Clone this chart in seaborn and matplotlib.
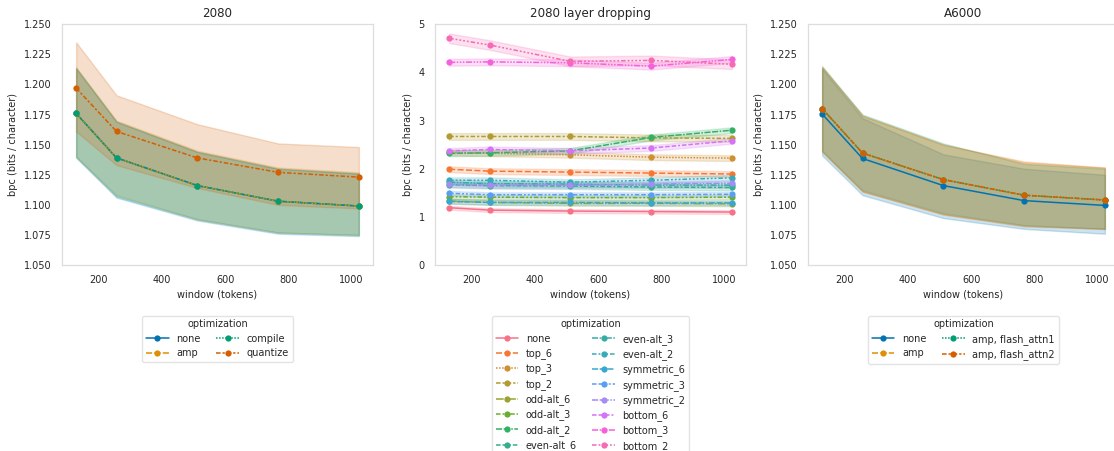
import numpy as np
import pandas as pd
import matplotlib
matplotlib.use("Agg")
import matplotlib.pyplot as plt
from matplotlib.ticker import MultipleLocator
import seaborn as sns

# ---------------------------------------------------------------- data
windows = [128, 256, 512, 768, 1024]

# 2080: mean bpc and lower / upper edge of the uncertainty band
opt_2080 = ["none", "amp", "compile", "quantize"]
mean_2080 = [
    [1.176, 1.139, 1.116, 1.103, 1.099],
    [1.176, 1.139, 1.116, 1.103, 1.099],
    [1.176, 1.139, 1.116, 1.103, 1.099],
    [1.197, 1.161, 1.139, 1.127, 1.123],
]
low_2080 = [
    [1.139, 1.106, 1.087, 1.076, 1.074],
    [1.140, 1.108, 1.088, 1.077, 1.075],
    [1.140, 1.107, 1.088, 1.077, 1.075],
    [1.161, 1.133, 1.114, 1.100, 1.097],
]
high_2080 = [
    [1.213, 1.169, 1.144, 1.130, 1.126],
    [1.214, 1.170, 1.145, 1.131, 1.127],
    [1.214, 1.169, 1.144, 1.130, 1.126],
    [1.235, 1.191, 1.167, 1.151, 1.148],
]

# A6000
opt_a6000 = ["none", "amp", "amp, flash_attn1", "amp, flash_attn2"]
mean_a6000 = [
    [1.1755, 1.1385, 1.116, 1.1035, 1.0995],
    [1.180, 1.143, 1.121, 1.108, 1.104],
    [1.180, 1.143, 1.121, 1.108, 1.104],
    [1.180, 1.143, 1.121, 1.108, 1.104],
]
low_a6000 = [
    [1.141, 1.108, 1.089, 1.080, 1.076],
    [1.144, 1.111, 1.092, 1.083, 1.080],
    [1.145, 1.112, 1.093, 1.083, 1.080],
    [1.144, 1.111, 1.092, 1.082, 1.080],
]
high_a6000 = [
    [1.213, 1.172, 1.142, 1.130, 1.125],
    [1.215, 1.174, 1.150, 1.135, 1.131],
    [1.215, 1.175, 1.151, 1.134, 1.130],
    [1.214, 1.174, 1.150, 1.136, 1.131],
]

# 2080 layer dropping: mean bpc and half-width of the band per variant
opt_drop = ["none", "top_6", "top_3", "top_2", "odd-alt_6", "odd-alt_3",
            "odd-alt_2", "even-alt_6", "even-alt_3", "even-alt_2",
            "symmetric_6", "symmetric_3", "symmetric_2",
            "bottom_6", "bottom_3", "bottom_2"]
mean_drop = [
    [1.19, 1.14, 1.12, 1.11, 1.10],
    [1.99, 1.95, 1.93, 1.91, 1.89],
    [2.34, 2.32, 2.29, 2.24, 2.22],
    [2.67, 2.67, 2.67, 2.64, 2.63],
    [1.33, 1.30, 1.28, 1.28, 1.27],
    [1.42, 1.41, 1.40, 1.40, 1.41],
    [2.32, 2.33, 2.37, 2.65, 2.80],
    [1.67, 1.65, 1.64, 1.62, 1.61],
    [1.72, 1.69, 1.68, 1.66, 1.66],
    [1.76, 1.76, 1.72, 1.76, 1.81],
    [1.32, 1.30, 1.30, 1.29, 1.29],
    [1.49, 1.46, 1.46, 1.46, 1.47],
    [1.68, 1.66, 1.66, 1.68, 1.70],
    [2.37, 2.40, 2.37, 2.43, 2.58],
    [4.21, 4.22, 4.20, 4.13, 4.27],
    [4.71, 4.57, 4.23, 4.25, 4.17],
]
spread_drop = [0.04, 0.06, 0.06, 0.07, 0.05, 0.05, 0.06, 0.06,
               0.06, 0.06, 0.05, 0.05, 0.06, 0.06, 0.07, 0.10]


def long_frame(names, means, lows, highs):
    """Three rows per point: band bottom, centre, band top."""
    rows = []
    for name, m, lo, hi in zip(names, means, lows, highs):
        for w, a, b, c in zip(windows, lo, m, hi):
            for v in (a, b, c):
                rows.append({"window": w, "bpc": v, "optimization": name})
    return pd.DataFrame(rows)


df_2080 = long_frame(opt_2080, mean_2080, low_2080, high_2080)
df_a6000 = long_frame(opt_a6000, mean_a6000, low_a6000, high_a6000)
low_drop = [[v - s for v in m] for m, s in zip(mean_drop, spread_drop)]
high_drop = [[v + s for v in m] for m, s in zip(mean_drop, spread_drop)]
df_drop = long_frame(opt_drop, mean_drop, low_drop, high_drop)

# ---------------------------------------------------------------- style
sns.set_theme(style="whitegrid")
fs = 7.0
plt.rcParams.update({
    "font.family": ["DejaVu Sans"],
    "axes.grid": False,
    "axes.edgecolor": "#dddddd",
    "axes.linewidth": 0.9,
    "xtick.labelsize": fs,
    "ytick.labelsize": fs,
    "axes.labelsize": fs,
    "axes.titlesize": 8.6,
    "legend.fontsize": fs,
    "legend.title_fontsize": fs,
    "text.color": "#262626",
    "axes.labelcolor": "#262626",
    "xtick.color": "#262626",
    "ytick.color": "#262626",
})

fig, axes = plt.subplots(1, 3, figsize=(11.14, 4.51), dpi=100)
W, H = 1114, 451
lefts = [62, 435, 808]
for ax, l in zip(axes, lefts):
    ax.set_position([l / W, (H - 265) / H, 311 / W, 240.7 / H])

band = lambda v: (v.min(), v.max())
line_kws = dict(x="window", y="bpc", hue="optimization", style="optimization",
                estimator="median", errorbar=band, marker="o",
                linewidth=1.1, markersize=4.5, markeredgewidth=0)

sns.lineplot(data=df_2080, ax=axes[0], palette="colorblind",
             hue_order=opt_2080, style_order=opt_2080, **line_kws)
sns.lineplot(data=df_drop, ax=axes[1], palette="husl",
             hue_order=opt_drop, style_order=opt_drop, **line_kws)
sns.lineplot(data=df_a6000, ax=axes[2], palette="colorblind",
             hue_order=opt_a6000, style_order=opt_a6000, **line_kws)

titles = ["2080", "2080 layer dropping", "A6000"]
for ax, t in zip(axes, titles):
    ax.set_title(t, pad=5)
    ax.set_xlabel("window (tokens)", labelpad=3)
    ax.set_ylabel("bpc (bits / character)")
    ax.tick_params(axis="both", pad=1.5)
    sns.move_legend(ax, "upper center", bbox_to_anchor=(0.5, -0.19),
                    ncol=2, title="optimization", frameon=True,
                    handlelength=2.3, columnspacing=1.6,
                    borderpad=0.4, labelspacing=0.45)
    leg = ax.get_legend()
    leg.get_frame().set_edgecolor("#dddddd")

for ax in (axes[0], axes[2]):
    ax.set_ylim(1.05, 1.25)
    ax.yaxis.set_major_locator(MultipleLocator(0.025))
axes[1].set_ylim(0, 5)

fig.savefig("out.png", dpi=100)
